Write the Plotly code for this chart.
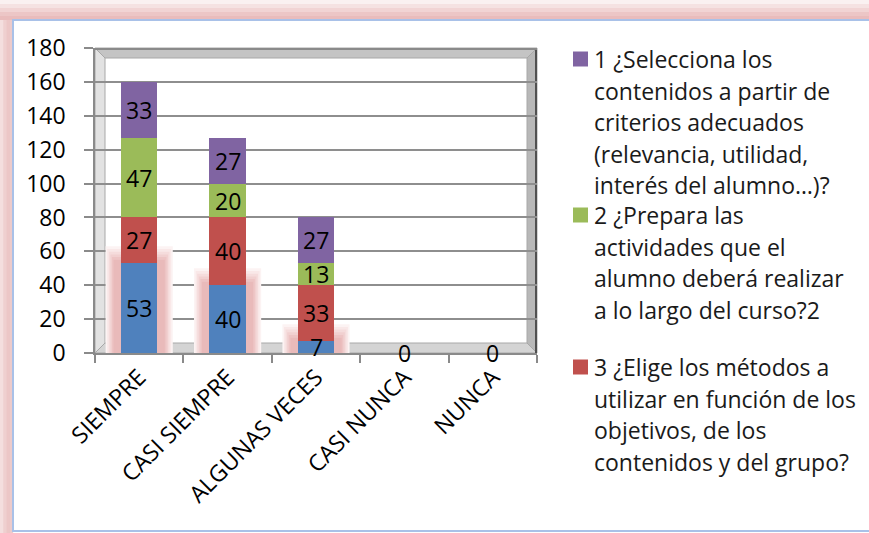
import plotly.graph_objects as go

categories = ["SIEMPRE", "CASI SIEMPRE", "ALGUNAS VECES", "CASI NUNCA", "NUNCA"]
serie_4 = [53, 40, 7, 0, 0]      # blue (bottom)
serie_3 = [27, 40, 33, 0, 0]     # red
serie_2 = [47, 20, 13, 0, 0]     # green
serie_1 = [33, 27, 27, 0, 0]     # purple (top)
y_ticks = [0, 20, 40, 60, 80, 100, 120, 140, 160, 180]

legend_lines_1 = ["1 ¿Selecciona los", "contenidos a partir de", "criterios adecuados",
                  "(relevancia, utilidad,", "interés del alumno…)?"]
legend_lines_2 = ["2 ¿Prepara las", "actividades que el", "alumno deberá realizar",
                  "a lo largo del curso?2"]
legend_lines_3 = ["3 ¿Elige los métodos a", "utilizar en función de los", "objetivos, de los",
                  "contenidos y del grupo?"]

C_BLUE, C_RED, C_GREEN, C_PURPLE = "#4F81BD", "#C0504D", "#9BBB59", "#8064A2"
FONT = "Open Sans, Lato, sans-serif"
FS = 23

# layout pixel geometry
WIDTH, HEIGHT = 869, 533
L, R, T, B = 95, 537, 48, 353
PW, PH = R - L, B - T


def px(x):
    return (x - L) / PW


def py(y):
    return (B - y) / PH


fig = go.Figure()

series = [("4", serie_4, C_BLUE), ("3 ¿Elige los métodos", serie_3, C_RED),
          ("2 ¿Prepara las actividades", serie_2, C_GREEN),
          ("1 ¿Selecciona los contenidos", serie_1, C_PURPLE)]
for name, vals, col in series:
    fig.add_trace(go.Bar(
        x=categories, y=vals, name=name, marker=dict(color=col, line=dict(width=0)),
        showlegend=False, hoverinfo="x+y+name",
    ))

# data labels at the middle of every segment (computed from the series)
annotations = []
base = [0] * len(categories)
for _, vals, _ in series:
    for i, (cat, v) in enumerate(zip(categories, vals)):
        if v > 0:
            annotations.append(dict(xref="x", yref="y", x=cat, y=base[i] + v / 2,
                                    text=str(v), showarrow=False, xanchor="center",
                                    yanchor="middle",
                                    font=dict(color="black", size=FS, family=FONT)))
        base[i] += v
for cat, tot in zip(categories, base):
    if tot == 0:
        annotations.append(dict(xref="x", yref="y", x=cat, y=0, text="0", showarrow=False,
                                xanchor="center", yanchor="middle",
                                font=dict(color="black", size=FS, family=FONT)))

shapes = []
# outer pink glow strips and box border
for i, op in enumerate([0.15, 0.3, 0.45, 0.6, 0.7]):
    shapes.append(dict(type="rect", xref="paper", yref="paper", x0=px(0), x1=px(WIDTH),
                       y0=py(4 * i), y1=py(4 * i + 4), fillcolor="#dfa0a0", opacity=op,
                       line=dict(width=0), layer="below"))
for i, op in enumerate([0.35, 0.5, 0.6, 0.55]):
    shapes.append(dict(type="rect", xref="paper", yref="paper", x0=px(3.25 * i), x1=px(3.25 * i + 3.4),
                       y0=py(HEIGHT), y1=py(20), fillcolor="#dfa0a0", opacity=op,
                       line=dict(width=0), layer="below"))
shapes.append(dict(type="rect", xref="paper", yref="paper", x0=px(13), x1=px(WIDTH + 5),
                   y0=py(531), y1=py(20), fillcolor="rgba(0,0,0,0)",
                   line=dict(color="#a9c1e8", width=2), layer="below"))

# 3D frame bevels
d = 10
bev = [
    ([(L, T), (R, T), (R - d, T + d), (L + d, T + d)], "#c4c4c4"),
    ([(R, T), (R, B), (R - d, B - d), (R - d, T + d)], "#b8b8b8"),
    ([(L, B), (R, B), (R - d, B - d), (L + d, B - d)], "#d4d4d4"),
    ([(L, T), (L + d, T + d), (L + d, B - d), (L, B)], "#e2e2e2"),
]
for pts, col in bev:
    path = "M " + " L ".join(f"{px(x)},{py(y)}" for x, y in pts) + " Z"
    shapes.append(dict(type="path", xref="paper", yref="paper", path=path,
                       fillcolor=col, line=dict(color="#a8a8a8", width=1), layer="below"))
shapes.append(dict(type="line", xref="paper", yref="paper", x0=px(R - 1), x1=px(R - 1),
                   y0=py(B), y1=py(T), line=dict(color="#505050", width=2), layer="below"))
shapes.append(dict(type="line", xref="paper", yref="paper", x0=px(L), x1=px(R),
                   y0=py(T + 1), y1=py(T + 1), line=dict(color="#8a8a8a", width=2), layer="below"))

# soft pink glow behind blue bars
glow_cols = ["#fcf3f3", "#f9e8e8", "#f5dcdc", "#f1d0d0", "#edc4c4", "#e9baba"]
for i, (cat, v) in enumerate(zip(categories, serie_4)):
    if v <= 0:
        continue
    for k, col in enumerate(glow_cols):
        hw = 0.38 - 0.018 * k
        shapes.append(dict(type="rect", xref="x", yref="y", x0=i - hw, x1=i + hw,
                           y0=-6 + 0.8 * k, y1=v + 10 - 1.6 * k, fillcolor=col,
                           line=dict(width=0), layer="between"))

# legend
legend_items = [(legend_lines_1, C_PURPLE, 59), (legend_lines_2, C_GREEN, 215),
                (legend_lines_3, C_RED, 367)]
for lines, col, y0 in legend_items:
    shapes.append(dict(type="rect", xref="paper", yref="paper", x0=px(573), x1=px(588),
                       y0=py(y0 + 7.5), y1=py(y0 - 7.5), fillcolor=col, line=dict(width=0)))
    for j, txt in enumerate(lines):
        annotations.append(dict(xref="paper", yref="paper", x=px(592), y=py(y0 + 31.6 * j),
                                xanchor="left", yanchor="middle", text=txt, showarrow=False,
                                font=dict(size=FS, family=FONT, color="#1a1a1a")))

fig.update_layout(
    width=WIDTH, height=HEIGHT,
    margin=dict(l=L, r=WIDTH - R, t=T, b=HEIGHT - B, pad=0),
    paper_bgcolor="white", plot_bgcolor="white",
    barmode="stack", bargap=0.59,
    shapes=shapes, annotations=annotations,
    font=dict(family=FONT, size=FS, color="black"),
    xaxis=dict(type="category", tickangle=-45, tickson="boundaries", ticks="outside",
               ticklen=8, tickcolor="#8a8a8a", tickwidth=1.5, showline=True,
               linecolor="#8a8a8a", linewidth=1.5, showgrid=False,
               tickfont=dict(size=FS, family=FONT, color="black")),
    yaxis=dict(range=[0, 180], tickvals=y_ticks, ticks="outside", ticklen=9,
               tickcolor="#8a8a8a", tickwidth=1.5, showline=True, linecolor="#8a8a8a",
               linewidth=1.5, showgrid=True, gridcolor="#8e8e8e", gridwidth=1.5,
               zeroline=False, ticklabelstandoff=14,
               tickfont=dict(size=FS, family=FONT, color="black")),
)

fig.write_html("out.html", config={"displayModeBar": False},
               post_script="document.body.style.margin='0px';document.body.style.overflow='hidden';")
